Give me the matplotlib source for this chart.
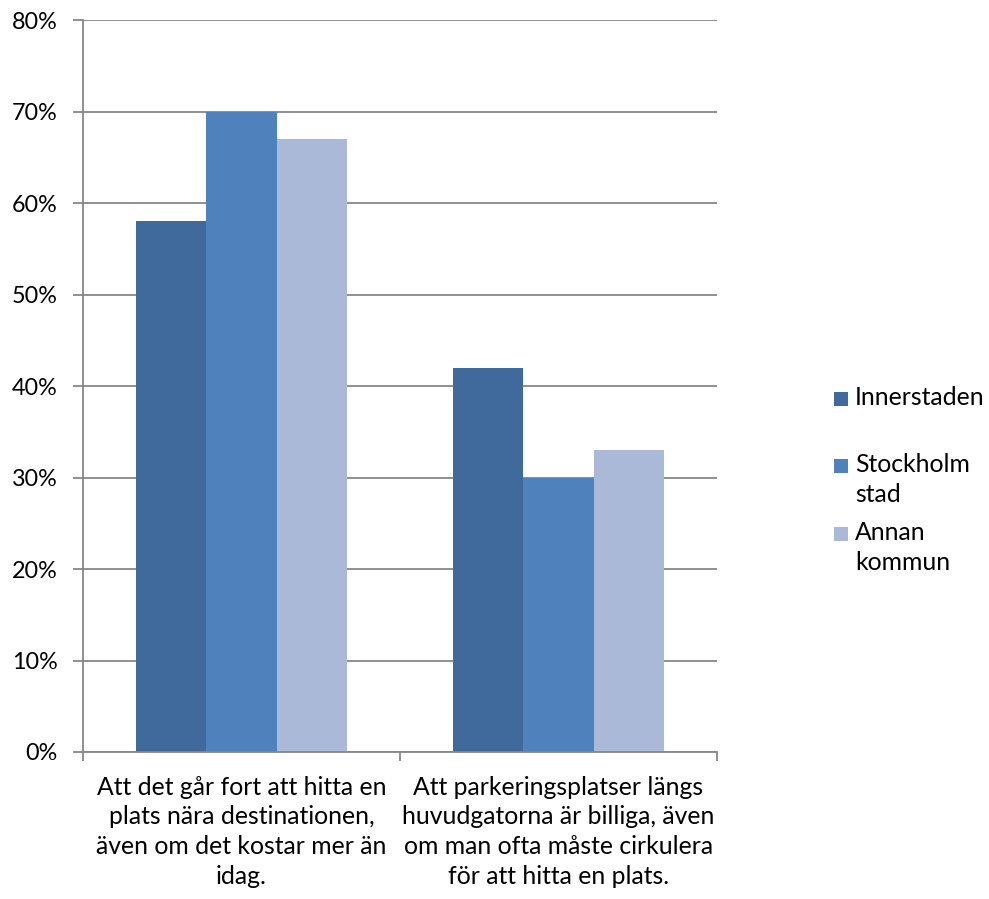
import matplotlib
matplotlib.use("Agg")
import matplotlib.pyplot as plt
from matplotlib.patches import Rectangle
from matplotlib.ticker import FixedLocator, PercentFormatter

plt.rcParams['font.family'] = ['Lato', 'DejaVu Sans']

categories = [
    "Att det går fort att hitta en\nplats nära destinationen,\näven om det kostar mer än\nidag.",
    "Att parkeringsplatser längs\nhuvudgatorna är billiga, även\nom man ofta måste cirkulera\nför att hitta en plats.",
]
series_names = ["Innerstaden", "Stockholm\nstad", "Annan\nkommun"]
innerstaden = [58, 42]
stockholm_stad = [70, 30]
annan_kommun = [67, 33]
series_values = [innerstaden, stockholm_stad, annan_kommun]
series_colors = ["#406A9C", "#4F81BD", "#AAB9D7"]
y_ticks = [0, 10, 20, 30, 40, 50, 60, 70, 80]

FS = 17.8
LS = 1.36
GRID = "#878787"

fig = plt.figure(figsize=(9.89, 8.99), dpi=100)
ax = fig.add_axes([83 / 989, 1 - 752 / 899, (717 - 83) / 989, (752 - 20) / 899])

n = len(series_names)
width = 0.222
x = list(range(len(categories)))
for i, (vals, col) in enumerate(zip(series_values, series_colors)):
    offs = (i - (n - 1) / 2) * width
    ax.bar([xi + offs for xi in x], vals, width=width, color=col, zorder=3, linewidth=0)

ax.set_xlim(-0.5, len(categories) - 0.5)
ax.set_ylim(0, 80)
ax.yaxis.set_major_locator(FixedLocator(y_ticks))
ax.yaxis.set_major_formatter(PercentFormatter(decimals=0))
ax.grid(axis="y", color=GRID, linewidth=1.3, zorder=0)
ax.set_axisbelow(True)

for s in ["top", "right"]:
    ax.spines[s].set_visible(False)
for s in ["left", "bottom"]:
    ax.spines[s].set_color(GRID)
    ax.spines[s].set_linewidth(1.3)
    ax.spines[s].set_zorder(4)

ax.tick_params(axis="y", length=7.2, width=1.3, color=GRID, pad=11, labelsize=16.8,
               labelcolor="black")
ax.set_xticks(x)
ax.set_xticklabels(categories, fontsize=FS, linespacing=LS)
ax.tick_params(axis="x", which="major", length=0, pad=17)
ax.set_xticks([xi - 0.5 for xi in x] + [len(categories) - 0.5], minor=True)
ax.tick_params(axis="x", which="minor", length=6.5, width=1.3, color=GRID)

# legend drawn by hand so that multi-line labels keep the square on the first line
tops = [389, 456, 524]
for name, col, top in zip(series_names, series_colors, tops):
    fig.patches.append(Rectangle((834 / 989, 1 - (top + 17) / 899), 14 / 989, 14 / 899,
                                 transform=fig.transFigure, color=col, linewidth=0))
    fig.text(855 / 989, 1 - (top - 3) / 899, name, fontsize=FS, va="top", ha="left",
             linespacing=LS)

fig.savefig("out.png", dpi=100)
